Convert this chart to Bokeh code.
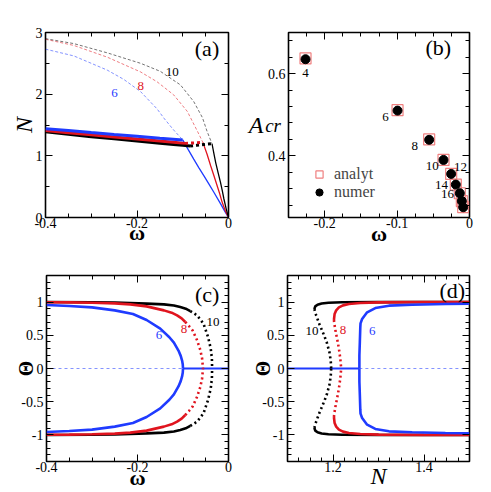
from bokeh.plotting import figure
from bokeh.models import Range1d, FixedTicker, LinearAxis, Label, Legend, LegendItem
from bokeh.layouts import column, row
from bokeh.embed import file_html
from bokeh.resources import INLINE

FONT = "Liberation Serif"
BLUE = "#1f3bff"
RED = "#e0141e"
BLACK = "#000000"

# ---------------- panel (a): N versus omega ----------------
# thin branches (Theta = 0 family): unstable part (dashed) and stable part (solid)
a6_up_w = [-0.4, -0.338, -0.265, -0.229, -0.192, -0.156, -0.14, -0.12, -0.1]
a6_up_n = [2.73, 2.62, 2.39, 2.24, 2.04, 1.76, 1.60, 1.42, 1.258]
a8_up_w = [-0.4, -0.338, -0.265, -0.192, -0.156, -0.12, -0.09, -0.068, -0.056]
a8_up_n = [2.89, 2.79, 2.60, 2.36, 2.20, 1.99, 1.72, 1.40, 1.218]
a10_up_w = [-0.4, -0.338, -0.265, -0.192, -0.149, -0.105, -0.076, -0.057, -0.047, -0.036]
a10_up_n = [2.90, 2.82, 2.67, 2.50, 2.37, 2.15, 1.88, 1.62, 1.40, 1.196]

a6_lo_w = [-0.1, -0.088, -0.076, -0.065, -0.054, -0.043, -0.032, -0.0175, -0.008, 0.0]
a6_lo_n = [1.258, 1.10, 0.947, 0.81, 0.68, 0.545, 0.41, 0.225, 0.10, 0.0]
a8_lo_w = [-0.056, -0.047, -0.039, -0.032, -0.025, -0.019, -0.014, -0.007, 0.0]
a8_lo_n = [1.218, 1.03, 0.84, 0.68, 0.52, 0.38, 0.25, 0.11, 0.0]
a10_lo_w = [-0.036, -0.032, -0.028, -0.0225, -0.0175, -0.0135, -0.01, -0.005, 0.0]
a10_lo_n = [1.196, 1.04, 0.89, 0.72, 0.57, 0.43, 0.30, 0.14, 0.0]

# thick branches (Theta != 0): stable (solid) and unstable (dotted)
a6_th_w = [-0.4, -0.35, -0.3, -0.25, -0.2, -0.15, -0.1]
a6_th_n = [1.44, 1.41, 1.378, 1.347, 1.317, 1.287, 1.258]
a8_th_w = [-0.4, -0.35, -0.3, -0.25, -0.2, -0.15, -0.12, -0.095]
a8_th_n = [1.41, 1.375, 1.34, 1.306, 1.272, 1.24, 1.22, 1.202]
a8_dt_w = [-0.095, -0.08, -0.068, -0.056]
a8_dt_n = [1.202, 1.208, 1.213, 1.218]
a10_th_w = [-0.4, -0.35, -0.3, -0.25, -0.2, -0.15, -0.12, -0.1, -0.084]
a10_th_n = [1.39, 1.35, 1.31, 1.275, 1.24, 1.205, 1.185, 1.17, 1.159]
a10_dt_w = [-0.084, -0.07, -0.055, -0.045, -0.036]
a10_dt_n = [1.159, 1.17, 1.182, 1.19, 1.196]

# ---------------- panel (b): A_cr versus omega ----------------
b_labels = ["4", "6", "8", "10", "12", "14", "16", "18", "20"]
b_w = [-0.2265, -0.0994, -0.0557, -0.0359, -0.0253, -0.0189, -0.0134, -0.0106, -0.0087]
b_analyt = [0.637, 0.511, 0.440, 0.390, 0.356, 0.330, 0.309, 0.290, 0.275]
b_numer = [0.635, 0.510, 0.439, 0.390, 0.356, 0.330, 0.309, 0.290, 0.275]
b_series = ["analyt", "numer"]

# ---------------- panel (c): Theta versus omega (upper halves) ----------------
c6_w = [-0.4, -0.35, -0.3, -0.25, -0.21, -0.18, -0.15, -0.13, -0.12, -0.11, -0.105, -0.102, -0.1005, -0.1]
c6_t = [0.955, 0.94, 0.92, 0.875, 0.82, 0.73, 0.60, 0.47, 0.39, 0.27, 0.19, 0.12, 0.06, 0.0]
c8_w = [-0.4, -0.35, -0.3, -0.25, -0.216, -0.18, -0.142, -0.125, -0.113, -0.103, -0.095]
c8_t = [0.998, 0.995, 0.99, 0.98, 0.965, 0.935, 0.875, 0.84, 0.80, 0.755, 0.70]
c8_dw = [-0.095, -0.087, -0.079, -0.069, -0.062, -0.058, -0.056]
c8_dt = [0.70, 0.64, 0.575, 0.425, 0.28, 0.15, 0.0]
c10_w = [-0.4, -0.3, -0.25, -0.216, -0.18, -0.142, -0.12, -0.106, -0.094, -0.084]
c10_t = [1.0, 0.998, 0.993, 0.985, 0.977, 0.965, 0.948, 0.925, 0.90, 0.865]
c10_dw = [-0.084, -0.069, -0.055, -0.045, -0.039, -0.0365, -0.036]
c10_dt = [0.865, 0.80, 0.675, 0.475, 0.30, 0.15, 0.0]
c_zero_solid_w = [-0.1, 0.0]
c_zero_dash_w = [-0.4, -0.1]

# ---------------- panel (d): Theta versus N (upper halves) ----------------
d6_n = [1.258, 1.258, 1.259, 1.260, 1.2605, 1.264, 1.275, 1.293, 1.323, 1.374, 1.447, 1.5]
d6_t = [0.0, 0.2, 0.4, 0.62, 0.68, 0.745, 0.846, 0.91, 0.946, 0.96, 0.97, 0.975]
d8_n = [1.5, 1.4, 1.3, 1.26, 1.235, 1.222, 1.213, 1.207, 1.2035, 1.202]
d8_t = [1.0, 0.999, 0.995, 0.985, 0.97, 0.95, 0.92, 0.875, 0.82, 0.73]
d8_dn = [1.202, 1.2035, 1.206, 1.209, 1.213, 1.216, 1.218]
d8_dt = [0.73, 0.65, 0.55, 0.45, 0.30, 0.15, 0.0]
d10_n = [1.5, 1.4, 1.3, 1.22, 1.19, 1.175, 1.166, 1.161, 1.159]
d10_t = [1.0, 1.0, 0.999, 0.997, 0.99, 0.978, 0.96, 0.935, 0.895]
d10_dn = [1.159, 1.163, 1.17, 1.178, 1.186, 1.192, 1.195, 1.196]
d10_dt = [0.895, 0.80, 0.67, 0.54, 0.40, 0.25, 0.12, 0.0]
d_zero_solid_n = [1.1, 1.258]
d_zero_dash_n = [1.258, 1.5]

# tick definitions
w_ticks = [-0.4, -0.2, 0.0]
w_tick_labels = ["-0.4", "-0.2", "0"]
w_minor = [round(-0.4 + 0.05 * i, 3) for i in range(9)]
n_ticks = [0, 1, 2, 3]
n_tick_labels = ["0", "1", "2", "3"]
n_minor = [0.5 * i for i in range(7)]
bw_ticks = [-0.2, -0.1, 0.0]
bw_tick_labels = ["-0.2", "-0.1", "0"]
bw_minor = [round(-0.25 + 0.025 * i, 4) for i in range(11)]
ba_ticks = [0.4, 0.6]
ba_tick_labels = ["0.4", "0.6"]
ba_minor = [round(0.28 + 0.04 * i, 3) for i in range(11)]
t_ticks = [-1.0, -0.5, 0.0, 0.5, 1.0]
t_tick_labels = ["-1", "-0.5", "0", "0.5", "1"]
t_minor = [round(-1.4 + 0.1 * i, 2) for i in range(29)]
dn_ticks = [1.2, 1.4]
dn_tick_labels = ["1.2", "1.4"]
dn_minor = [round(1.1 + 0.025 * i, 3) for i in range(17)]


def style_axis(ax, ticks, minor, labels, show_labels=True, standoff=3):
    ax.ticker = FixedTicker(ticks=ticks, minor_ticks=minor)
    ax.axis_line_color = None
    ax.major_tick_in = 7
    ax.major_tick_out = 0
    ax.minor_tick_in = 4
    ax.minor_tick_out = 0
    ax.major_tick_line_color = "black"
    ax.minor_tick_line_color = "black"
    ax.major_tick_line_width = 1
    ax.minor_tick_line_width = 1
    ax.major_label_text_font = FONT
    ax.major_label_text_font_size = "14px"
    if show_labels:
        ax.major_label_overrides = {t: l for t, l in zip(ticks, labels)}
        ax.major_label_text_color = "black"
        ax.major_label_standoff = standoff
    else:
        ax.major_label_overrides = {t: "" for t in ticks}
        ax.major_label_text_color = None
        ax.major_label_standoff = 0


def axis_title(ax, text, size, style, standoff, orientation=None):
    ax.axis_label = text
    ax.axis_label_text_font = FONT
    ax.axis_label_text_font_size = size
    ax.axis_label_text_font_style = style
    ax.axis_label_text_color = "black"
    ax.axis_label_standoff = standoff
    if orientation is not None and "axis_label_orientation" in ax.properties():
        ax.axis_label_orientation = orientation


def make_fig(w, h, xr, yr, borders, xt, xm, xl, yt, ym, yl):
    bl, br, bt, bb = borders
    p = figure(width=w, height=h, x_range=Range1d(*xr), y_range=Range1d(*yr),
               output_backend="svg", toolbar_location=None,
               min_border_left=bl, min_border_right=br,
               min_border_top=bt, min_border_bottom=bb)
    p.xgrid.visible = False
    p.ygrid.visible = False
    p.outline_line_color = "black"
    p.outline_line_width = 1.6
    p.outline_line_alpha = 1.0
    p.background_fill_color = "white"
    p.border_fill_color = "white"
    xa = p.below[0]
    ya = p.left[0]
    style_axis(xa, xt, xm, xl, standoff=0)
    style_axis(ya, yt, ym, yl, standoff=3)
    top = LinearAxis()
    style_axis(top, xt, xm, xl, show_labels=False)
    p.add_layout(top, "above")
    right = LinearAxis()
    style_axis(right, yt, ym, yl, show_labels=False)
    p.add_layout(right, "right")
    return p, xa, ya


def label(p, x, y, text, size, color="black", style="normal"):
    p.add_layout(Label(x=x, y=y, text=text, text_font=FONT, text_font_size=size,
                       text_color=color, text_font_style=style,
                       text_align="center", text_baseline="middle"))


def neg(v):
    return [-t for t in v]


def ident(v):
    return list(v)


# ---------------- (a) ----------------
pa, pa_x, pa_y = make_fig(245, 248, (-0.4, 0.0), (0.0, 3.0), (45, 17, 32, 29),
                          w_ticks, w_minor, w_tick_labels, n_ticks, n_minor, n_tick_labels)
for (uw, un, lw, ln, col) in [(a6_up_w, a6_up_n, a6_lo_w, a6_lo_n, BLUE),
                               (a8_up_w, a8_up_n, a8_lo_w, a8_lo_n, RED),
                               (a10_up_w, a10_up_n, a10_lo_w, a10_lo_n, BLACK)]:
    pa.line(uw, un, line_color=col, line_width=1, line_alpha=0.55, line_dash="3 2")
    pa.line(lw, ln, line_color=col, line_width=1.3)
pa.line(a10_th_w, a10_th_n, line_color=BLACK, line_width=3)
pa.line(a10_dt_w, a10_dt_n, line_color=BLACK, line_width=3, line_dash="3 3")
pa.line(a8_th_w, a8_th_n, line_color=RED, line_width=3)
pa.line(a8_dt_w, a8_dt_n, line_color=RED, line_width=3, line_dash="3 3")
pa.line(a6_th_w, a6_th_n, line_color=BLUE, line_width=3)
label(pa, -0.047, 2.74, "(a)", "22px")
label(pa, -0.123, 2.36, "10", "13px", BLACK)
label(pa, -0.192, 2.14, "8", "13px", RED)
label(pa, -0.249, 2.02, "6", "13px", BLUE)
axis_title(pa_y, "N", "24px", "italic", -4)
axis_title(pa_x, "ω", "22px", "bold", -11)

# ---------------- (b) ----------------
pb, pb_x, pb_y = make_fig(246, 248, (-0.25, 0.0), (0.25, 0.7), (42, 22, 31, 30),
                          bw_ticks, bw_minor, bw_tick_labels, ba_ticks, ba_minor, ba_tick_labels)
r_an = pb.scatter(b_w, b_analyt, marker="square", size=11, fill_color=None,
                  line_color="#f08080", line_width=1.2)
r_nu = pb.scatter(b_w, b_numer, marker="circle", size=9, fill_color="black",
                  line_color="black")
b_label_pos = [(-0.2265, 0.601), (-0.116, 0.494), (-0.0755, 0.424), (-0.0515, 0.376),
               (-0.0124, 0.372), (-0.0387, 0.330), (-0.0304, 0.307)]
for (lx, ly), t in zip(b_label_pos, b_labels):
    label(pb, lx, ly, t, "13px")
leg = Legend(items=[LegendItem(label=b_series[0], renderers=[r_an]),
                    LegendItem(label=b_series[1], renderers=[r_nu])],
             location=(20, 16), border_line_color=None, background_fill_alpha=0,
             label_text_font=FONT, label_text_font_size="16px",
             glyph_width=22, glyph_height=18, label_height=18, spacing=0,
             padding=0, margin=0, label_standoff=4)
pb.add_layout(leg)
label(pb, -0.0432, 0.664, "(b)", "22px")
axis_title(pb_x, "ω", "22px", "bold", -10)
axis_title(pb_y, "cr", "19px", "italic", -16, "horizontal")
outer = LinearAxis(ticker=FixedTicker(ticks=[]), axis_line_color=None,
                   major_tick_in=0, major_tick_out=0, minor_tick_in=0, minor_tick_out=0,
                   major_label_standoff=0)
axis_title(outer, "A", "24px", "italic", -1, "horizontal")
pb.add_layout(outer, "left")

# ---------------- (c) ----------------
pc, pc_x, pc_y = make_fig(245, 244, (-0.4, 0.0), (-1.4, 1.4), (46, 17, 27, 30),
                          w_ticks, w_minor, w_tick_labels, t_ticks, t_minor, t_tick_labels)
pc.line(c_zero_dash_w, [0, 0], line_color=BLUE, line_width=1, line_alpha=0.55, line_dash="3 3")
pc.line(c_zero_solid_w, [0, 0], line_color=BLUE, line_width=1.8)
for f in (ident, neg):
    pc.line(c10_w, f(c10_t), line_color=BLACK, line_width=2.6)
    pc.line(c10_dw, f(c10_dt), line_color=BLACK, line_width=2.6, line_dash="2 3")
    pc.line(c8_w, f(c8_t), line_color=RED, line_width=2.6)
    pc.line(c8_dw, f(c8_dt), line_color=RED, line_width=2.6, line_dash="2 3")
    pc.line(c6_w, f(c6_t), line_color=BLUE, line_width=2.6)
label(pc, -0.047, 1.115, "(c)", "22px")
label(pc, -0.153, 0.51, "6", "13px", BLUE)
label(pc, -0.098, 0.60, "8", "13px", RED)
label(pc, -0.034, 0.70, "10", "13px", BLACK)
axis_title(pc_y, "Θ", "20px", "bold", -19)
axis_title(pc_x, "ω", "22px", "bold", -10)

# ---------------- (d) ----------------
pd_, pd_x, pd_y = make_fig(246, 244, (1.1, 1.5), (-1.4, 1.4), (42, 22, 26, 31),
                           dn_ticks, dn_minor, dn_tick_labels, t_ticks, t_minor, t_tick_labels)
pd_.line(d_zero_dash_n, [0, 0], line_color=BLUE, line_width=1, line_alpha=0.55, line_dash="3 3")
pd_.line(d_zero_solid_n, [0, 0], line_color=BLUE, line_width=1.8)
for f in (ident, neg):
    pd_.line(d10_n, f(d10_t), line_color=BLACK, line_width=2.6)
    pd_.line(d10_dn, f(d10_dt), line_color=BLACK, line_width=2.6, line_dash="2 3")
    pd_.line(d8_n, f(d8_t), line_color=RED, line_width=2.6)
    pd_.line(d8_dn, f(d8_dt), line_color=RED, line_width=2.6, line_dash="2 3")
    pd_.line(d6_n, f(d6_t), line_color=BLUE, line_width=2.6)
label(pd_, 1.462, 1.17, "(d)", "22px")
label(pd_, 1.154, 0.56, "10", "13px", BLACK)
label(pd_, 1.222, 0.58, "8", "13px", RED)
label(pd_, 1.286, 0.56, "6", "13px", BLUE)
axis_title(pd_y, "Θ", "20px", "bold", -15)
axis_title(pd_x, "N", "24px", "italic", -12)

layout = column(row(pa, pb), row(pc, pd_))
open("out.html", "w").write(file_html(layout, INLINE))
